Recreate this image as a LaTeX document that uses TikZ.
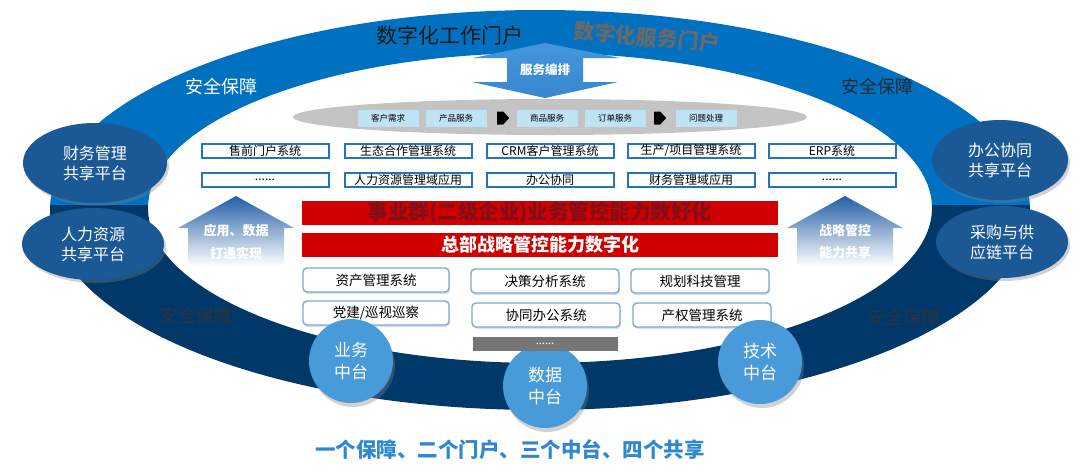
\documentclass[tikz,border=0pt]{standalone}
\usepackage{fontspec}
\setmainfont{Noto Sans CJK SC}
\usetikzlibrary{shadows,shapes.geometric}
\definecolor{ringtop}{RGB}{0,112,192}
\definecolor{ringbot}{RGB}{0,57,105}
\definecolor{ellblue}{RGB}{26,88,150}
\definecolor{circblue}{RGB}{72,154,217}
\definecolor{boxblue}{RGB}{35,115,195}
\definecolor{lblblue}{RGB}{192,226,245}
\definecolor{barred}{RGB}{208,0,0}
\definecolor{maroon}{RGB}{130,14,24}
\definecolor{steel}{RGB}{125,170,210}
\definecolor{titleblue}{RGB}{45,135,210}
\definecolor{dimtext}{RGB}{45,52,64}
\definecolor{portalgray}{RGB}{105,105,105}
\definecolor{arrowtop}{RGB}{35,95,165}
\definecolor{arrowmid}{RGB}{75,140,205}
\definecolor{svctop}{RGB}{70,150,218}
\definecolor{svcmid}{RGB}{95,165,225}
\definecolor{svcbot}{RGB}{55,135,210}
\definecolor{ellgray}{RGB}{196,196,196}
\definecolor{dotgray}{RGB}{118,118,118}
\begin{document}
\begin{tikzpicture}[x=1pt,y=-1pt,
  every node/.style={inner sep=0pt},
  sysbox/.style={draw=boxblue,line width=2pt,fill=white,minimum width=127,minimum height=14,font=\fontsize{12}{13}\selectfont},
  lbl/.style={fill=lblblue,minimum width=61,minimum height=17,font=\fontsize{8.5}{10}\selectfont},
  rbox/.style={draw=steel,line width=1.4pt,fill=white,rounded corners=4pt,minimum height=24,font=\fontsize{13.5}{15}\selectfont,drop shadow={shadow xshift=1pt,shadow yshift=-2pt,opacity=.25}},
  sideell/.style={ellipse,fill=ellblue,text=white,align=center,font=\fontsize{16}{20}\selectfont,drop shadow={shadow xshift=2pt,shadow yshift=-3pt,opacity=.35}},
  hub/.style={circle,fill=circblue,text=white,align=center,minimum size=84,font=\fontsize{17}{22}\selectfont,drop shadow={shadow xshift=2pt,shadow yshift=-4pt,opacity=.35}},
  redbarbox/.style={fill=barred,minimum width=476,minimum height=24},
  safe/.style={font=\fontsize{18}{20}\selectfont},
  uparrowtext/.style={text=white,font=\fontsize{13}{15}\selectfont\bfseries},
]
\useasboundingbox (0,0) rectangle (1080,472);
\fill[white] (0,0) rectangle (1080,472);

% ring
\begin{scope}
\clip (0,0) rectangle (1080,205);
\fill[ringtop,even odd rule] (540,210) ellipse [x radius=490,y radius=200]
  (540,208) ellipse [x radius=392,y radius=155];
\end{scope}
\begin{scope}
\clip (0,205) rectangle (1080,472);
\fill[ringbot,even odd rule] (540,210) ellipse [x radius=490,y radius=200]
  (540,208) ellipse [x radius=392,y radius=155];
\end{scope}

% portal titles
\node[font=\fontsize{21}{24}\selectfont,text=black!90] (wport) at (450,36) {数字化工作门户};
\node[font=\fontsize{21}{24}\selectfont\bfseries,text=portalgray,rotate=-5] (sport) at (647,37) {数字化服务门户};

% security labels
\node[safe,text=white] (s1) at (221,87) {安全保障};
\node[safe,text=dimtext!80!black] (s2) at (877,87) {安全保障};
\node[safe,text=dimtext] (s3) at (196,316) {安全保障};
\node[safe,text=dimtext] (s4) at (903,318) {安全保障};

% service arrow
\shade[top color=svctop,middle color=svcmid,bottom color=svcbot]
  (545,43) -- (620,58) -- (583,58) -- (583,82) -- (618,82) -- (545,98)
  -- (472,82) -- (507,82) -- (507,58) -- (473,58) -- cycle;
\node[text=white,font=\fontsize{12.5}{14}\selectfont\bfseries] (svc) at (545,70) {服务编排};

% gray ellipse with process labels
\fill[ellgray] (550,117) ellipse [x radius=257,y radius=18];
\node[lbl] (l1) at (388,118) {客户需求};
\node[lbl] (l2) at (456,118) {产品服务};
\node[lbl] (l3) at (547,118) {商品服务};
\node[lbl] (l4) at (615,118) {订单服务};
\node[lbl] (l5) at (706,118) {问题处理};
\fill[black] ([xshift=10.5]l2.east) ++(0,-6.5) -- ++(6,0) -- ++(6,6.5) -- ++(-6,6.5) -- ++(-6,0) -- cycle;
\fill[black] ([xshift=8.5]l4.east) ++(0,-6.5) -- ++(6,0) -- ++(6,6.5) -- ++(-6,6.5) -- ++(-6,0) -- cycle;

% system boxes
\node[sysbox] (a1) at (265,151) {售前门户系统};
\node[sysbox] (a2) at (408,151) {生态合作管理系统};
\node[sysbox] (a3) at (550,151) {CRM客户管理系统};
\node[sysbox] (a4) at (691,151) {生产/项目管理系统};
\node[sysbox] (a5) at (832,151) {ERP系统};
\node[sysbox] (b1) at (265,180) {......};
\node[sysbox] (b2) at (408,180) {人力资源管理域应用};
\node[sysbox] (b3) at (550,180) {办公协同};
\node[sysbox] (b4) at (691,180) {财务管理域应用};
\node[sysbox] (b5) at (832,180) {......};

% red bars
\node[redbarbox,text=maroon,font=\fontsize{20.5}{22}\selectfont\bfseries] (r1) at (540,213) {事业群(二级企业)业务管控能力数好化};
\node[redbarbox,text=white,font=\fontsize{18}{20}\selectfont\bfseries] (r2) at (540,245) {总部战略管控能力数字化};

% up arrows
\shade[top color=arrowtop,middle color=arrowmid,bottom color=white]
  (236,196) -- (294,228) -- (284,228) -- (284,266) -- (188,266) -- (188,228) -- (178,228) -- cycle;
\node[uparrowtext] (ua1) at (236,231) {应用、数据};
\node[uparrowtext] (ua2) at (236,253) {打通实现};
\shade[top color=arrowtop,middle color=arrowmid,bottom color=white]
  (845,196) -- (903,228) -- (893,228) -- (893,266) -- (797,266) -- (797,228) -- (787,228) -- cycle;
\node[uparrowtext] (ub1) at (845,231) {战略管控};
\node[uparrowtext] (ub2) at (845,253) {能力共享};

% rounded boxes
\node[rbox,minimum width=146] (c1) at (376,280) {资产管理系统};
\node[rbox,minimum width=148] (c2) at (545,281) {决策分析系统};
\node[rbox,minimum width=138] (c3) at (700,281) {规划科技管理};
\node[rbox,minimum width=146] (d1) at (376,313) {党建/巡视巡察};
\node[rbox,minimum width=148] (d2) at (546,315) {协同办公系统};
\node[rbox,minimum width=138] (d3) at (702,315) {产权管理系统};

% side ellipses
\node[sideell,minimum width=144,minimum height=80] (e1) at (95,163) {财务管理\\共享平台};
\node[sideell,minimum width=142,minimum height=72] (e2) at (93,244) {人力资源\\共享平台};
\node[sideell,minimum width=136,minimum height=80] (e3) at (1000,160) {办公协同\\共享平台};
\node[sideell,minimum width=132,minimum height=72] (e4) at (1002,242) {采购与供\\应链平台};

% hubs
\node[hub] (h1) at (351,361) {业务\\中台};
\node[hub] (h2) at (545,386) {数据\\中台};
\node[hub] (h3) at (760,362) {技术\\中台};

% gray dots bar (above the data hub)
\node[fill=dotgray,minimum width=145,minimum height=14,text=white,font=\fontsize{11}{12}\selectfont] (dots) at (545,344) {......};

% slogan
\node[text=titleblue,font=\fontsize{20.5}{22}\selectfont\bfseries] (slogan) at (510,450) {一个保障、二个门户、三个中台、四个共享};
\end{tikzpicture}
\end{document}
